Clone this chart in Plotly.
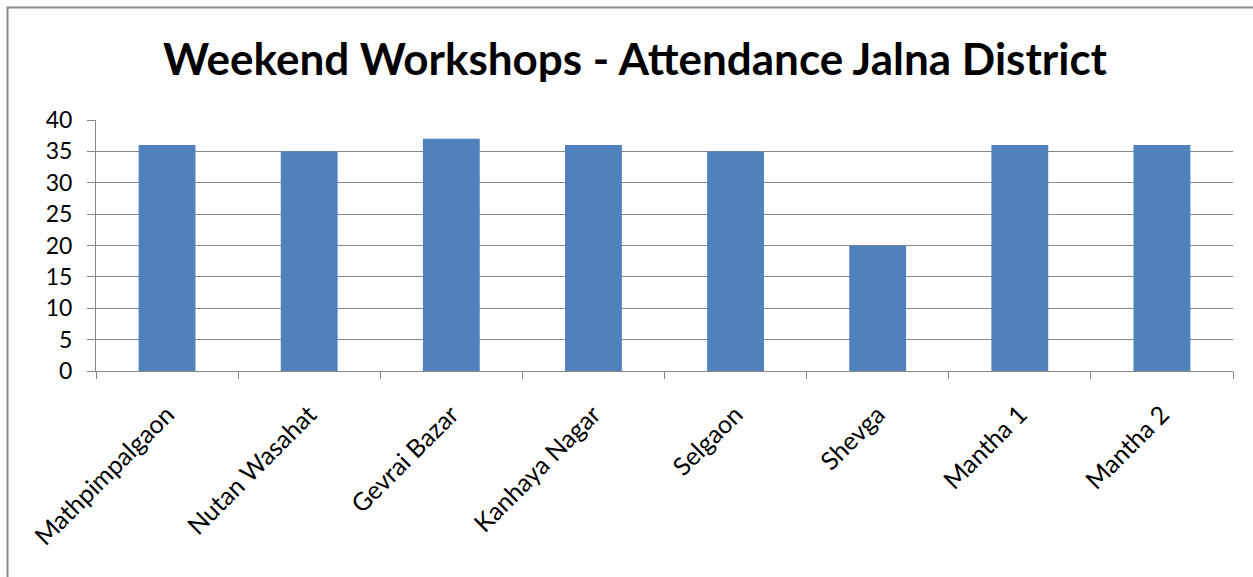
import plotly.graph_objects as go

categories = ["Mathpimpalgaon", "Nutan Wasahat", "Gevrai Bazar", "Kanhaya Nagar",
              "Selgaon", "Shevga", "Mantha 1", "Mantha 2"]
attendance = [36, 35, 37, 36, 35, 20, 36, 36]
title_text = "Weekend Workshops - Attendance Jalna District"

W, H = 1253, 577
L, R, T, B = 96, 20, 120, 206
pw, ph = W - L - R, H - T - B

fig = go.Figure(go.Bar(x=categories, y=attendance, marker_color="#4F81BD",
                       marker_line_width=0))

fig.update_layout(
    width=W, height=H,
    margin=dict(l=L, r=R, t=T, b=B, autoexpand=False),
    paper_bgcolor="white", plot_bgcolor="white",
    bargap=0.6,
    showlegend=False,
    font=dict(family="Lato, Open Sans, sans-serif", size=22, color="black"),
    title=dict(text="<b>" + title_text + "</b>", x=635 / W, xref="container",
               xanchor="center", y=1 - 60 / H, yanchor="middle",
               font=dict(size=44, family="Lato, Open Sans, sans-serif", color="black")),
)
fig.update_yaxes(range=[0, 40], dtick=5, showgrid=True, gridcolor="#888888",
                 gridwidth=1, showline=True, linecolor="#888888", ticks="outside",
                 ticklen=8, tickcolor="#888888", zeroline=False,
                 ticklabelstandoff=10, tickfont=dict(size=23))
fig.update_xaxes(showline=True, linecolor="#888888", ticks="outside",
                 tickson="boundaries", ticklen=7, tickcolor="#888888",
                 ticklabelstandoff=18, tickangle=-45, tickfont=dict(size=25))

# outer chart border
x0 = (7.5 - L) / pw
y1 = 1 + (T - 7.5) / ph
fig.add_shape(type="rect", xref="paper", yref="paper",
              x0=x0, x1=(W + 10 - L) / pw, y0=-(B + 10) / ph, y1=y1,
              line=dict(color="#8C8C8C", width=2), fillcolor="rgba(0,0,0,0)",
              layer="below")

fig.write_html("out.html", config={"displayModeBar": False},
               post_script="document.body.style.margin='0';document.body.style.overflow='hidden';")
